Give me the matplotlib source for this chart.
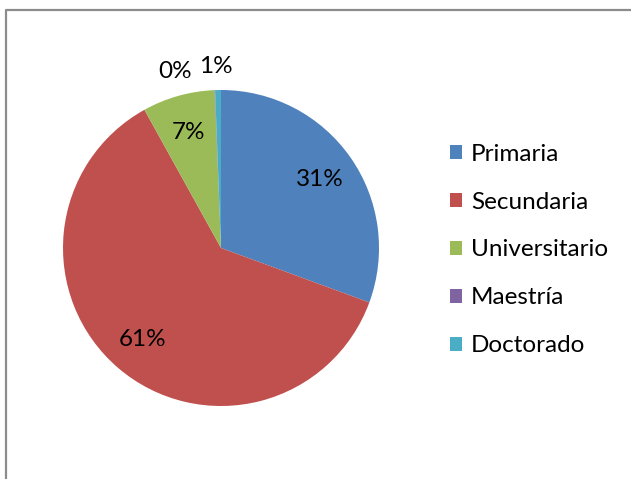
import numpy as np
import matplotlib
matplotlib.use("Agg")
import matplotlib.pyplot as plt
from matplotlib.lines import Line2D

# datos (porcentaje)
categorias = ["Primaria", "Secundaria", "Universitario", "Maestría", "Doctorado"]
valores = [30.6, 61.35, 7.4, 0.05, 0.6]
colores = ["#4F81BD", "#C0504D", "#9BBB59", "#8064A2", "#4BACC6"]

plt.rcParams["font.family"] = ["Lato", "DejaVu Sans"]

W, H = 631, 479
fig = plt.figure(figsize=(W / 100, H / 100), dpi=100)

# pie: centro (221, 248) px, radio 158 px
r = 158
cx, cy = 221, 248
ax = fig.add_axes([(cx - r) / W, (H - cy - r) / H, 2 * r / W, 2 * r / H])
wedges, texts, autotexts = ax.pie(
    valores, colors=colores, startangle=90, counterclock=False,
    autopct="%1.0f%%", pctdistance=0.76,
    wedgeprops=dict(linewidth=0),
    textprops=dict(fontsize=17.5, color="black"))
ax.set_xlim(-1, 1); ax.set_ylim(-1, 1)
ax.set_aspect("equal")

# etiquetas de las porciones pequeñas fuera del pastel
autotexts[3].set_position((-0.29, 1.12))
autotexts[4].set_position((-0.03, 1.15))

leg = fig.legend(wedges, categorias, loc="center left",
                 bbox_to_anchor=(438 / W, 1 - 250 / H),
                 frameon=False, fontsize=17.5,
                 handlelength=0.5, handleheight=0.5, handletextpad=0.36,
                 labelspacing=1.11, borderpad=0)

# marco gris (cortado abajo y a la derecha)
fig.add_artist(Line2D([6 / W, 6 / W, 1.0], [0.0, 1 - 10 / H, 1 - 10 / H],
                      transform=fig.transFigure, color="#8c8c8c", lw=1.6))

fig.savefig("out.png", dpi=100)
